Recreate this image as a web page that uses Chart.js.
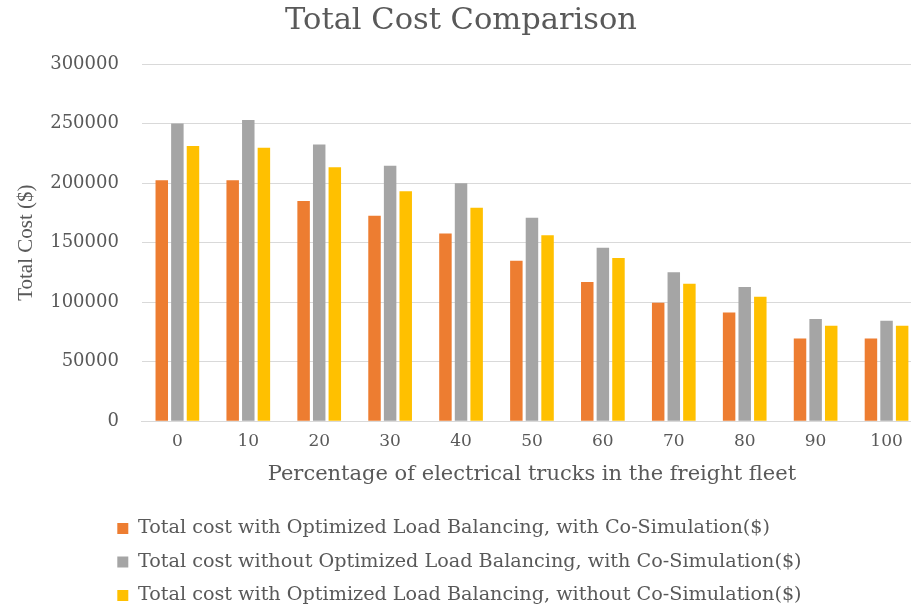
<!DOCTYPE html>
<html>
<head>
<meta charset="utf-8">
<script src="https://cdn.jsdelivr.net/npm/chart.js@4.4.1/dist/chart.umd.min.js"></script>
<style>
  html, body { margin: 0; padding: 0; background: #ffffff; overflow: hidden; width: 911px; height: 606px; }
  #wrap { position: absolute; left: 0; top: 0; width: 922px; height: 615px; }
</style>
</head>
<body>
<div id="wrap"><canvas id="c" width="922" height="615"></canvas></div>
<script>
const categories = ['0', '10', '20', '30', '40', '50', '60', '70', '80', '90', '100'];
const seriesNames = [
  'Total cost with Optimized Load Balancing, with Co-Simulation($)',
  'Total cost without Optimized Load Balancing, with Co-Simulation($)',
  'Total cost with Optimized Load Balancing, without Co-Simulation($)'
];
const optWithCoSim = [202400, 202400, 185000, 172600, 157700, 134700, 117000, 99500, 91300, 69400, 69400];
const noOptWithCoSim = [250200, 253000, 232500, 214500, 199900, 170900, 145700, 125100, 112800, 85800, 84300];
const optNoCoSim = [231100, 229700, 213400, 193100, 179400, 156300, 137200, 115500, 104600, 80100, 80100];
const yTicks = [0, 50000, 100000, 150000, 200000, 250000, 300000];

const textColor = '#595959';
const serif = "'DejaVu Serif', serif";

const legendShift = {
  id: 'legendShift',
  beforeDraw(chart) {
    if (chart.legend) { chart.legend.left = 103; }
  }
};

new Chart(document.getElementById('c'), {
  type: 'bar',
  data: {
    labels: categories,
    datasets: [
      { label: seriesNames[0], data: optWithCoSim, backgroundColor: '#ED7D31' },
      { label: seriesNames[1], data: noOptWithCoSim, backgroundColor: '#A5A5A5' },
      { label: seriesNames[2], data: optNoCoSim, backgroundColor: '#FFC000' }
    ]
  },
  options: {
    responsive: false,
    animation: false,
    devicePixelRatio: 1,
    layout: { padding: { left: 0, right: 0, top: 0, bottom: 0 } },
    datasets: { bar: { categoryPercentage: 0.66, barPercentage: 0.8 } },
    plugins: {
      title: {
        display: true,
        text: 'Total Cost Comparison',
        color: textColor,
        font: { family: serif, size: 30.5, weight: 'normal' },
        padding: { top: 3, bottom: 24.5 }
      },
      legend: {
        display: true,
        position: 'bottom',
        align: 'start',
        labels: {
          color: textColor,
          font: { family: serif, size: 19.2 },
          boxWidth: 11,
          boxHeight: 11,
          padding: 14.3
        }
      },
      tooltip: { enabled: false }
    },
    scales: {
      x: {
        grid: { display: false, drawTicks: false },
        border: { display: true, color: '#d9d9d9', width: 1 },
        ticks: { color: textColor, font: { family: serif, size: 17 }, padding: 10, maxRotation: 0 },
        title: {
          display: true,
          text: 'Percentage of electrical trucks in the freight fleet',
          color: textColor,
          font: { family: serif, size: 21 },
          padding: { top: 0, bottom: 17.7 }
        }
      },
      y: {
        min: 0,
        max: 300000,
        afterBuildTicks(scale) { scale.ticks = yTicks.map(v => ({ value: v })); },
        grid: { color: '#d9d9d9', lineWidth: 1, drawTicks: false },
        border: { display: false },
        ticks: {
          color: textColor,
          font: { family: serif, size: 18 },
          padding: 23,
          callback: (v) => String(v)
        },
        title: {
          display: true,
          text: 'Total Cost ($)',
          color: textColor,
          font: { family: "'Liberation Serif', serif", size: 21 },
          padding: { top: 14, bottom: -12 }
        }
      }
    }
  },
  plugins: [legendShift]
});
</script>
</body>
</html>
